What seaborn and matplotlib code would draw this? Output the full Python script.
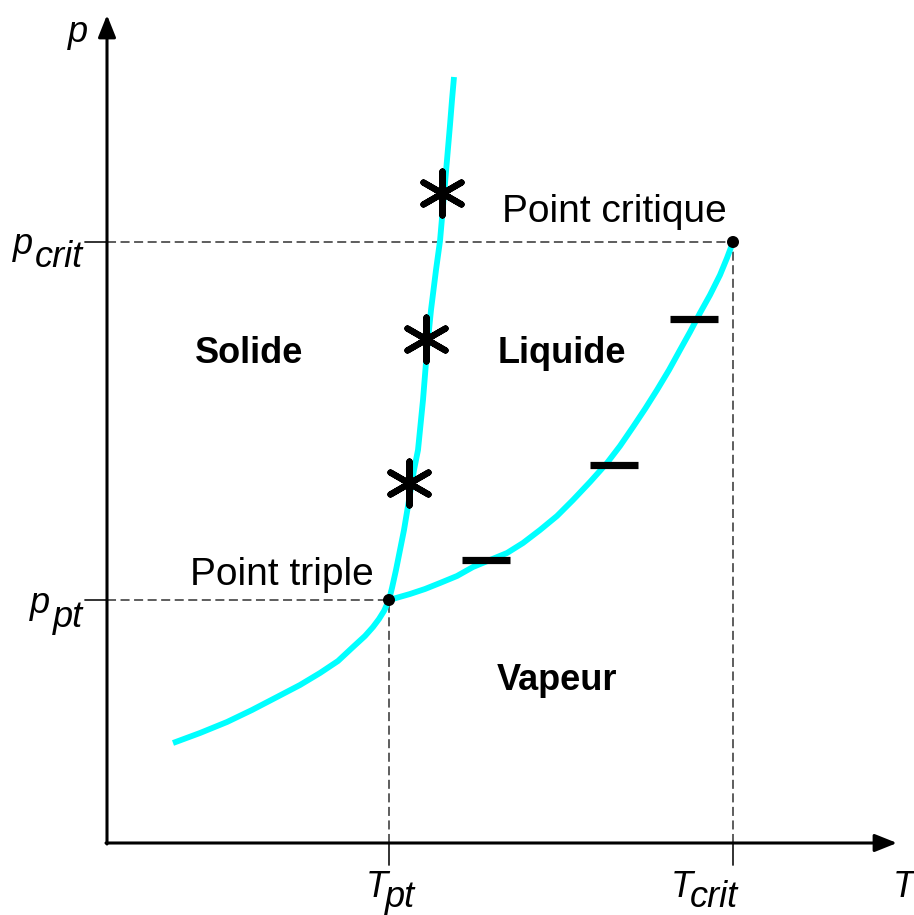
import matplotlib
matplotlib.use("Agg")
import matplotlib.pyplot as plt
import seaborn as sns
import pandas as pd

# ------------------------------------------------------
# Phase diagram (p, T)
# units: arbitrary, origin at the axes corner
# ------------------------------------------------------

# sublimation curve (solid / vapour)
subl_T = [66, 93, 120, 145, 170, 193, 213, 231, 246, 258, 266, 272, 277, 282]
subl_p = [100, 110, 121, 133, 146, 158, 170, 182, 196, 207, 216, 224, 232, 243]

# melting curve (solid / liquid)
fus_T = [282, 285, 289, 293, 297, 302, 307, 311, 316, 320, 324, 329, 333, 337, 340, 343, 345, 347]
fus_p = [243, 255, 273, 293, 313, 343, 373, 393, 443, 493, 533, 573, 602, 648, 683, 718, 743, 766]

# vaporisation curve (liquid / vapour)
vap_T = [282, 303, 318, 333, 350, 366, 383, 400, 416, 433, 450, 466, 483, 500, 513, 526,
         538, 550, 562, 573, 583, 593, 603, 613, 620, 626]
vap_p = [243, 249, 254, 260, 267, 276, 283, 290, 300, 313, 327, 343, 361, 380, 397, 416,
         434, 453, 473, 493, 511, 530, 548, 568, 585, 601]

# special points
T_pt, p_pt = 282, 243
T_crit, p_crit = 626, 601

# asterisks on the melting curve, dashes on the vaporisation curve
star_T = [335, 319, 302]
star_p = [650, 504, 360]
dash_T = [379, 507, 587]
dash_p = [283, 378, 524]

# region labels
regions = ["Solide", "Liquide", "Vapeur"]
region_T = [88, 391, 390]
region_p = [480, 480, 153]

sns.set_theme(style="white")
plt.rcParams["font.family"] = ["Liberation Sans", "DejaVu Sans"]
plt.rcParams["text.color"] = "black"

fig = plt.figure(figsize=(9.14, 9.15), dpi=100)
ax = fig.add_axes([0, 0, 1, 1])

cyan = "#00FFFF"
for T, p in [(subl_T, subl_p), (fus_T, fus_p), (vap_T, vap_p)]:
    sns.lineplot(x=T, y=p, sort=False, estimator=None, color=cyan, lw=4.2,
                 ax=ax, solid_capstyle="butt", solid_joinstyle="round", zorder=3)

# dashed guide lines to the axes
guide = dict(color="#505050", lw=1.3, ls=(0, (5, 2.5)), zorder=2)
ax.plot([0, T_crit], [p_crit, p_crit], **guide)
ax.plot([T_crit, T_crit], [0, p_crit], **guide)
ax.plot([0, T_pt], [p_pt, p_pt], **guide)
ax.plot([T_pt, T_pt], [0, p_pt], **guide)
# small solid ticks outside the axes
tick = dict(color="#222222", lw=1.3, zorder=2)
ax.plot([-22, 0], [p_crit, p_crit], **tick)
ax.plot([-22, 0], [p_pt, p_pt], **tick)
ax.plot([T_crit, T_crit], [-22, 0], **tick)
ax.plot([T_pt, T_pt], [-22, 0], **tick)

# markers
pts = pd.DataFrame({"T": [T_pt, T_crit], "p": [p_pt, p_crit]})
sns.scatterplot(data=pts, x="T", y="p", color="black", s=75, edgecolor="none",
                ax=ax, zorder=5)
sns.scatterplot(x=star_T, y=star_p, marker=(6, 2, 0), s=1000, color="black",
                linewidth=4.5, ax=ax, zorder=5)
sns.scatterplot(x=dash_T, y=dash_p, marker="_", s=1200, color="black",
                linewidth=5.2, ax=ax, zorder=5)

# axes with arrows
arrow = dict(arrowstyle="-|>,head_length=0.45,head_width=0.18", lw=2.2,
             color="black", mutation_scale=30, shrinkA=0, shrinkB=0)
ax.annotate("", xy=(790, 0), xytext=(-1, 0), arrowprops=arrow)
ax.annotate("", xy=(0, 828), xytext=(0, -1), arrowprops=arrow)

# texts
for name, T, p in zip(regions, region_T, region_p):
    ax.text(T, p, name, fontsize=26, fontweight="bold", va="baseline", ha="left")
ax.text(395, 621, "Point critique", fontsize=28, va="baseline", ha="left")
ax.text(83, 258, "Point triple", fontsize=28, va="baseline", ha="left")

lab = dict(fontsize=26, style="italic", va="baseline", ha="left")
ax.text(-39, 801, "p", **lab)
ax.text(786, -54, "T", **lab)
ax.text(-94, p_crit - 12, "p", **lab)
ax.text(-72, p_crit - 25, "crit", **lab)
ax.text(-77, p_pt - 13, "p", **lab)
ax.text(-54, p_pt - 27, "pt", **lab)
ax.text(T_pt - 23, -54, "T", **lab)
ax.text(T_pt - 4, -64, "pt", **lab)
ax.text(T_crit - 62, -54, "T", **lab)
ax.text(T_crit - 43, -64, "crit", **lab)

ax.set_xlim(-107, 807)
ax.set_ylim(-72, 843)
ax.axis("off")

fig.savefig("out.png", dpi=100)
